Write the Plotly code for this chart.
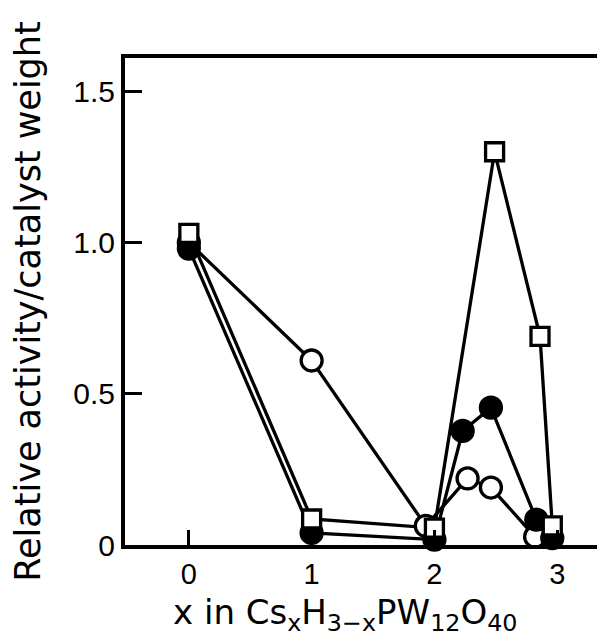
import plotly.graph_objects as go

# Open circles
x_open = [0, 1, 1.93, 2.27, 2.46, 2.82]
y_open = [1.00, 0.61, 0.063, 0.22, 0.19, 0.027]
# Filled circles
x_filled = [0, 1, 2.0, 2.23, 2.46, 2.83, 2.96]
y_filled = [0.98, 0.04, 0.018, 0.377, 0.454, 0.084, 0.023]
# Open squares
x_square = [0, 1, 2.0, 2.49, 2.86, 2.96]
y_square = [1.03, 0.086, 0.056, 1.30, 0.69, 0.063]

x_ticks = [0, 1, 2, 3]
x_ticklabels = ["0", "1", "2", "3"]
y_ticks = [0, 0.5, 1.0, 1.5]
y_ticklabels = ["0", "0.5", "1.0", "1.5"]

x_title = "x in Cs<sub>x</sub>H<sub>3−x</sub>PW<sub>12</sub>O<sub>40</sub>"
y_title = "Relative activity/catalyst weight"

LW = 3.3
MS = 21
TICKFONT = "Liberation Sans, Arial"
TITLEFONT = "DejaVu Sans"

fig = go.Figure()
series = [
    (x_open, y_open, "circle", "white"),
    (x_filled, y_filled, "circle", "black"),
    (x_square, y_square, "square", "white"),
]
# lines first
for xs, ys, sym, fill in series:
    fig.add_trace(go.Scatter(x=xs, y=ys, mode="lines",
                             line=dict(color="black", width=LW),
                             showlegend=False, cliponaxis=False))
# then markers
for xs, ys, sym, fill in series:
    fig.add_trace(go.Scatter(x=xs, y=ys, mode="markers",
                             marker=dict(symbol=sym, size=MS if sym == "circle" else MS - 3,
                                         color=fill,
                                         line=dict(color="black", width=LW)),
                             showlegend=False, cliponaxis=False))

fig.update_layout(
    width=605, height=639,
    margin=dict(l=117, r=3, t=50, b=102),
    plot_bgcolor="white", paper_bgcolor="white",
    font=dict(family=TITLEFONT, color="black", size=26),
    xaxis=dict(range=[-0.52, 3.43], tickvals=x_ticks, ticktext=x_ticklabels,
               ticks="inside", ticklen=15, tickwidth=3, tickcolor="black",
               showline=True, linewidth=4, linecolor="black", mirror=True,
               showgrid=False, zeroline=False, automargin=False,
               ticklabelstandoff=0,
               tickfont=dict(size=29, family=TICKFONT)),
    yaxis=dict(range=[0, 1.61], tickvals=y_ticks, ticktext=y_ticklabels,
               ticks="inside", ticklen=17, tickwidth=3, tickcolor="black",
               showline=True, linewidth=4, linecolor="black", mirror=True,
               showgrid=False, zeroline=False, automargin=False,
               tickfont=dict(size=30, family=TICKFONT),
               title=dict(text=y_title,
                          font=dict(size=35, family=TITLEFONT), standoff=28)),
    annotations=[dict(text=x_title, xref="paper", yref="paper",
                      x=(337 - 117) / 485, y=-(606 - 537) / 487,
                      xanchor="center", yanchor="middle", showarrow=False,
                      font=dict(size=34, family=TITLEFONT, color="black"))],
)

fig.write_html("out.html")
